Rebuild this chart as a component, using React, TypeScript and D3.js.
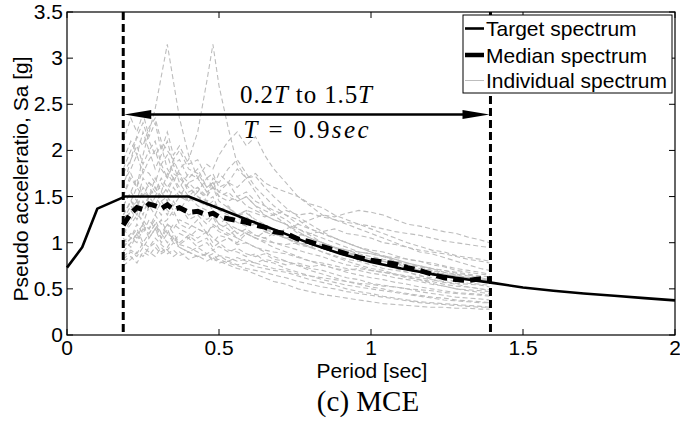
import React from "react";
import * as d3 from "d3";

const targetPeriods = [0, 0.05, 0.1, 0.19, 0.4, 0.5, 0.6, 0.7, 0.8, 0.9, 1.0, 1.1, 1.2, 1.3, 1.4, 1.5, 1.6, 1.7, 1.8, 1.9, 2.0];
const targetSa = [0.73, 0.95, 1.37, 1.5, 1.5, 1.37, 1.24, 1.12, 0.99, 0.88, 0.79, 0.72, 0.66, 0.61, 0.565, 0.515, 0.48, 0.45, 0.425, 0.4, 0.375];

const recPeriods = [0.185, 0.21, 0.23, 0.25, 0.27, 0.29, 0.31, 0.33, 0.35, 0.37, 0.40, 0.43, 0.46, 0.48, 0.50, 0.53, 0.56, 0.59, 0.62, 0.65, 0.68, 0.72, 0.76, 0.80, 0.84, 0.88, 0.92, 0.96, 1.00, 1.04, 1.08, 1.12, 1.16, 1.20, 1.24, 1.28, 1.32, 1.36, 1.39];
const medianSa = [1.19, 1.32, 1.38, 1.36, 1.42, 1.40, 1.37, 1.41, 1.36, 1.38, 1.33, 1.34, 1.30, 1.32, 1.28, 1.26, 1.24, 1.22, 1.19, 1.17, 1.12, 1.10, 1.04, 1.01, 0.96, 0.92, 0.88, 0.84, 0.81, 0.79, 0.77, 0.73, 0.70, 0.66, 0.62, 0.60, 0.59, 0.61, 0.61];

const individualSa: number[][] = [
  [1.5, 1.75, 1.6, 1.95, 2.2, 2.45, 2.8, 3.15, 2.75, 2.35, 1.95, 1.7, 1.55, 1.6, 1.45, 1.38, 1.3, 1.35, 1.22, 1.18, 1.1, 1.05, 0.98, 0.95, 0.9, 0.85, 0.8, 0.76, 0.72, 0.7, 0.66, 0.63, 0.6, 0.56, 0.53, 0.5, 0.48, 0.46, 0.45],
  [1.3, 1.45, 1.35, 1.6, 1.5, 1.7, 1.55, 1.75, 1.65, 1.8, 1.9, 2.2, 2.75, 3.15, 2.7, 2.25, 1.85, 1.7, 1.55, 1.4, 1.32, 1.25, 1.15, 1.08, 1.0, 0.95, 0.9, 0.84, 0.8, 0.76, 0.72, 0.68, 0.65, 0.6, 0.57, 0.55, 0.52, 0.5, 0.48],
  [2.1, 2.35, 2.2, 2.4, 2.15, 2.3, 2.0, 2.2, 1.95, 2.05, 1.85, 1.9, 1.7, 1.75, 1.6, 1.65, 1.5, 1.55, 1.45, 1.4, 1.35, 1.3, 1.2, 1.15, 1.1, 1.05, 1.0, 0.95, 0.92, 0.9, 0.86, 0.82, 0.8, 0.76, 0.74, 0.7, 0.68, 0.66, 0.65],
  [1.4, 1.55, 1.45, 1.7, 1.6, 1.5, 1.65, 1.55, 1.7, 1.6, 1.75, 1.7, 1.85, 1.8, 1.95, 2.1, 2.2, 2.05, 2.15, 1.95, 1.8, 1.65, 1.5, 1.4, 1.3, 1.25, 1.2, 1.15, 1.1, 1.05, 1.0, 0.95, 0.9, 0.88, 0.84, 0.8, 0.76, 0.72, 0.7],
  [0.8, 0.85, 0.78, 0.9, 0.86, 0.95, 0.88, 0.92, 0.85, 0.9, 0.82, 0.86, 0.8, 0.84, 0.78, 0.8, 0.76, 0.78, 0.74, 0.72, 0.7, 0.68, 0.64, 0.6, 0.57, 0.54, 0.5, 0.47, 0.45, 0.42, 0.4, 0.38, 0.36, 0.35, 0.34, 0.33, 0.32, 0.31, 0.3],
  [1.75, 1.9, 2.05, 1.85, 2.0, 1.8, 1.95, 2.1, 1.85, 1.9, 1.7, 1.8, 1.6, 1.65, 1.55, 1.5, 1.45, 1.5, 1.4, 1.35, 1.3, 1.2, 1.15, 1.1, 1.05, 1.0, 0.95, 0.9, 0.88, 0.85, 0.8, 0.78, 0.74, 0.7, 0.68, 0.65, 0.62, 0.6, 0.58],
  [1.1, 1.25, 1.35, 1.2, 1.4, 1.3, 1.45, 1.35, 1.3, 1.4, 1.25, 1.3, 1.2, 1.28, 1.15, 1.2, 1.1, 1.15, 1.08, 1.05, 1.0, 0.96, 0.92, 0.88, 0.85, 0.8, 0.76, 0.74, 0.7, 0.68, 0.65, 0.62, 0.6, 0.58, 0.55, 0.53, 0.52, 0.5, 0.49],
  [0.9, 1.0, 1.1, 0.95, 1.05, 1.15, 1.0, 1.1, 1.05, 0.98, 1.05, 0.95, 1.0, 0.92, 0.96, 0.9, 0.94, 0.88, 0.85, 0.88, 0.82, 0.8, 0.76, 0.72, 0.7, 0.66, 0.62, 0.6, 0.56, 0.54, 0.52, 0.5, 0.47, 0.45, 0.43, 0.41, 0.4, 0.39, 0.38],
  [1.6, 1.9, 2.15, 2.3, 2.1, 1.95, 2.05, 1.8, 1.7, 1.75, 1.55, 1.6, 1.45, 1.5, 1.35, 1.3, 1.25, 1.28, 1.2, 1.15, 1.1, 1.05, 1.0, 0.96, 0.9, 0.86, 0.82, 0.8, 0.76, 0.72, 0.7, 0.68, 0.64, 0.62, 0.6, 0.58, 0.56, 0.55, 0.54],
  [1.0, 1.1, 1.05, 1.2, 1.15, 1.25, 1.1, 1.2, 1.15, 1.25, 1.2, 1.15, 1.1, 1.18, 1.12, 1.08, 1.15, 1.1, 1.05, 1.12, 1.08, 1.15, 1.2, 1.25, 1.3, 1.28, 1.32, 1.35, 1.33, 1.3, 1.25, 1.2, 1.18, 1.15, 1.12, 1.1, 1.06, 1.03, 1.0],
  [1.3, 1.45, 1.6, 1.5, 1.65, 1.55, 1.7, 1.6, 1.5, 1.55, 1.45, 1.5, 1.4, 1.45, 1.35, 1.4, 1.3, 1.32, 1.25, 1.2, 1.15, 1.1, 1.05, 1.0, 0.98, 0.94, 0.9, 0.86, 0.82, 0.8, 0.78, 0.74, 0.7, 0.67, 0.64, 0.62, 0.6, 0.58, 0.57],
  [0.75, 0.82, 0.9, 0.85, 0.95, 1.0, 0.9, 0.95, 1.05, 0.95, 0.9, 0.85, 0.88, 0.8, 0.82, 0.78, 0.75, 0.72, 0.7, 0.68, 0.65, 0.62, 0.58, 0.55, 0.52, 0.5, 0.47, 0.45, 0.43, 0.41, 0.39, 0.37, 0.35, 0.34, 0.33, 0.32, 0.31, 0.3, 0.3],
  [1.2, 1.35, 1.25, 1.4, 1.5, 1.4, 1.55, 1.45, 1.6, 1.5, 1.65, 1.55, 1.7, 1.6, 1.75, 1.65, 1.8, 1.7, 1.75, 1.65, 1.6, 1.55, 1.5, 1.42, 1.38, 1.3, 1.25, 1.2, 1.15, 1.1, 1.05, 1.0, 0.96, 0.92, 0.9, 0.86, 0.84, 0.82, 0.8],
  [1.15, 1.05, 1.2, 1.1, 1.25, 1.15, 1.05, 1.2, 1.1, 1.0, 1.08, 1.0, 1.05, 0.95, 1.0, 0.92, 0.9, 0.85, 0.88, 0.8, 0.78, 0.72, 0.68, 0.64, 0.6, 0.57, 0.54, 0.52, 0.5, 0.48, 0.46, 0.44, 0.42, 0.4, 0.38, 0.37, 0.36, 0.35, 0.35],
  [1.9, 2.1, 1.95, 2.2, 2.0, 2.1, 1.85, 1.95, 1.75, 1.7, 1.6, 1.5, 1.45, 1.35, 1.3, 1.2, 1.15, 1.1, 1.05, 1.0, 0.95, 0.9, 0.85, 0.8, 0.76, 0.72, 0.68, 0.65, 0.62, 0.6, 0.57, 0.55, 0.52, 0.5, 0.48, 0.46, 0.45, 0.44, 0.43],
  [1.2, 1.35, 1.45, 1.3, 1.5, 1.4, 1.3, 1.45, 1.35, 1.4, 1.3, 1.35, 1.25, 1.3, 1.2, 1.28, 1.22, 1.18, 1.2, 1.12, 1.1, 1.05, 1.0, 0.98, 0.95, 0.9, 0.88, 0.85, 0.82, 0.8, 0.78, 0.76, 0.72, 0.7, 0.66, 0.64, 0.62, 0.6, 0.6],
  [0.95, 1.05, 1.15, 1.0, 1.1, 1.2, 1.05, 1.15, 1.0, 1.1, 1.05, 1.15, 1.1, 1.0, 1.08, 1.05, 1.0, 1.1, 1.05, 1.02, 1.0, 0.98, 1.0, 0.95, 0.98, 0.95, 0.92, 0.9, 0.88, 0.85, 0.84, 0.82, 0.8, 0.78, 0.75, 0.72, 0.7, 0.68, 0.66],
  [1.5, 1.7, 1.6, 1.8, 1.75, 1.65, 1.85, 1.7, 1.9, 1.75, 1.65, 1.7, 1.55, 1.6, 1.5, 1.45, 1.5, 1.4, 1.35, 1.3, 1.25, 1.2, 1.12, 1.05, 1.0, 0.95, 0.92, 0.88, 0.85, 0.82, 0.8, 0.76, 0.74, 0.72, 0.7, 0.68, 0.66, 0.64, 0.63],
  [0.85, 0.92, 0.88, 1.0, 0.95, 1.05, 0.98, 0.92, 1.0, 0.95, 0.9, 0.95, 0.88, 0.92, 0.86, 0.84, 0.8, 0.82, 0.78, 0.75, 0.72, 0.7, 0.66, 0.64, 0.62, 0.6, 0.58, 0.56, 0.55, 0.53, 0.52, 0.5, 0.49, 0.48, 0.46, 0.45, 0.44, 0.43, 0.42],
  [1.3, 1.45, 1.4, 1.55, 1.5, 1.6, 1.45, 1.5, 1.4, 1.5, 1.45, 1.55, 1.5, 1.6, 1.55, 1.65, 1.6, 1.7, 1.72, 1.6, 1.5, 1.38, 1.28, 1.2, 1.12, 1.05, 1.0, 0.95, 0.9, 0.86, 0.82, 0.78, 0.75, 0.72, 0.7, 0.67, 0.65, 0.62, 0.6],
  [1.1, 1.2, 1.3, 1.25, 1.15, 1.3, 1.2, 1.25, 1.35, 1.2, 1.15, 1.25, 1.1, 1.2, 1.15, 1.1, 1.05, 1.12, 1.08, 1.05, 1.1, 1.05, 1.08, 1.1, 1.12, 1.15, 1.1, 1.08, 1.05, 1.0, 0.98, 0.95, 0.92, 0.9, 0.88, 0.85, 0.82, 0.8, 0.78],
  [1.65, 1.8, 1.95, 1.75, 1.9, 2.0, 1.8, 1.7, 1.85, 1.65, 1.5, 1.4, 1.35, 1.3, 1.2, 1.15, 1.05, 1.0, 0.95, 0.9, 0.85, 0.8, 0.75, 0.7, 0.66, 0.62, 0.58, 0.55, 0.52, 0.5, 0.47, 0.45, 0.43, 0.41, 0.4, 0.38, 0.37, 0.36, 0.35],
  [1.25, 1.4, 1.3, 1.45, 1.35, 1.5, 1.4, 1.3, 1.45, 1.35, 1.5, 1.6, 1.5, 1.7, 1.65, 1.8, 1.9, 1.75, 1.6, 1.5, 1.4, 1.3, 1.25, 1.15, 1.1, 1.05, 1.0, 0.95, 0.9, 0.85, 0.82, 0.78, 0.75, 0.72, 0.68, 0.66, 0.64, 0.62, 0.6],
  [0.82, 0.9, 0.85, 0.95, 0.9, 0.85, 0.95, 0.88, 0.92, 0.86, 0.9, 0.85, 0.88, 0.82, 0.86, 0.8, 0.84, 0.8, 0.78, 0.82, 0.8, 0.76, 0.78, 0.74, 0.76, 0.72, 0.7, 0.72, 0.7, 0.68, 0.66, 0.64, 0.62, 0.6, 0.58, 0.56, 0.55, 0.54, 0.52],
  [1.4, 1.55, 1.7, 1.5, 1.65, 1.6, 1.5, 1.6, 1.7, 1.55, 1.5, 1.45, 1.4, 1.42, 1.35, 1.38, 1.3, 1.35, 1.32, 1.28, 1.3, 1.35, 1.3, 1.32, 1.28, 1.25, 1.22, 1.2, 1.18, 1.15, 1.12, 1.1, 1.08, 1.05, 1.02, 1.0, 0.98, 0.96, 0.95],
  [1.05, 0.95, 1.1, 1.2, 1.05, 1.15, 1.25, 1.1, 1.2, 1.15, 1.1, 1.05, 1.12, 1.05, 1.0, 1.05, 0.98, 1.0, 0.95, 0.92, 0.9, 0.88, 0.84, 0.8, 0.78, 0.75, 0.72, 0.7, 0.67, 0.65, 0.62, 0.6, 0.58, 0.55, 0.53, 0.5, 0.49, 0.48, 0.47],
  [1.8, 2.0, 2.15, 2.05, 2.25, 2.35, 2.1, 2.0, 1.9, 2.0, 1.8, 1.75, 1.6, 1.65, 1.5, 1.55, 1.45, 1.5, 1.4, 1.3, 1.25, 1.2, 1.1, 1.05, 1.0, 0.95, 0.9, 0.86, 0.82, 0.8, 0.76, 0.74, 0.7, 0.68, 0.66, 0.64, 0.62, 0.6, 0.58],
  [0.95, 1.05, 1.0, 1.15, 1.1, 1.2, 1.1, 1.0, 1.08, 0.98, 0.95, 0.9, 0.85, 0.88, 0.8, 0.76, 0.72, 0.7, 0.66, 0.62, 0.58, 0.55, 0.5, 0.47, 0.44, 0.42, 0.4, 0.38, 0.36, 0.34, 0.33, 0.32, 0.31, 0.3, 0.3, 0.29, 0.29, 0.28, 0.28],
];

const xTicks = [0, 0.5, 1, 1.5, 2];
const yTicks = [0, 0.5, 1, 1.5, 2, 2.5, 3, 3.5];
const rangeBounds = [0.185, 1.393];
const arrowLevel = 2.39;
const legendLabels = ["Target spectrum", "Median spectrum", "Individual spectrum"];

const W = 680;
const H = 421;
const m = { left: 67, right: 675, top: 12, bottom: 335 };
const sans = "'Liberation Sans', Arial, Helvetica, sans-serif";
const serif = "'Liberation Serif', 'Times New Roman', serif";

export default function App() {
  const x = d3.scaleLinear().domain([0, 2]).range([m.left, m.right]);
  const y = d3.scaleLinear().domain([0, 3.5]).range([m.bottom, m.top]);
  const line = d3
    .line<[number, number]>()
    .defined((d) => d[1] !== undefined && !isNaN(d[1]))
    .x((d) => x(d[0]))
    .y((d) => y(d[1]));

  const targetPath = line(targetPeriods.map((t, i) => [t, targetSa[i]]))!;
  const medianPath = line(recPeriods.map((t, i) => [t, medianSa[i]]))!;
  const indivPaths = individualSa.map((row) => line(recPeriods.map((t, i) => [t, row[i]]))!);

  const tick = 6;
  const ay = y(arrowLevel);
  const ax0 = x(rangeBounds[0]);
  const ax1 = x(rangeBounds[1]);
  const ahL = 27;
  const ahW = 4.5;

  const lx = 463;
  const ly = 15;
  const lw = 209;
  const lh = 78;
  const rows = [28.5, 55, 80.5];
  const fs = 21;

  return (
    <svg
      width={W}
      height={H}
      style={{ position: "absolute", left: 0, top: 0, background: "#fff" }}
      xmlns="http://www.w3.org/2000/svg"
    >
      <rect x={0} y={0} width={W} height={H} fill="#fff" />
      <g fill="none" stroke="#bdbdbd" strokeWidth={1.1} strokeDasharray="5,3">
        {indivPaths.map((p, i) => (
          <path key={i} d={p} />
        ))}
      </g>
      <path d={targetPath} fill="none" stroke="#000" strokeWidth={2.6} strokeLinejoin="round" />
      <path d={medianPath} fill="none" stroke="#000" strokeWidth={5} strokeDasharray="11,6" />
      {rangeBounds.map((b, i) => (
        <line
          key={i}
          x1={x(b)}
          x2={x(b)}
          y1={m.top}
          y2={m.bottom}
          stroke="#000"
          strokeWidth={3}
          strokeDasharray="8,4"
        />
      ))}
      <line x1={ax0 + ahL - 2} x2={ax1 - ahL + 2} y1={ay} y2={ay} stroke="#000" strokeWidth={2.5} />
      <path d={`M${ax0 + 1},${ay} L${ax0 + 1 + ahL},${ay - ahW} L${ax0 + 1 + ahL},${ay + ahW} Z`} fill="#000" />
      <path d={`M${ax1 - 1},${ay} L${ax1 - 1 - ahL},${ay - ahW} L${ax1 - 1 - ahL},${ay + ahW} Z`} fill="#000" />
      <text x={306} y={103} fontFamily={serif} fontSize={25} textAnchor="middle" textLength={132} lengthAdjust="spacing">
        <tspan>0.2</tspan>
        <tspan fontStyle="italic">T</tspan>
        <tspan> to 1.5</tspan>
        <tspan fontStyle="italic">T</tspan>
      </text>
      <text x={306} y={138} fontFamily={serif} fontSize={25} textAnchor="middle" textLength={125} lengthAdjust="spacing">
        <tspan fontStyle="italic">T</tspan>
        <tspan> = 0.9</tspan>
        <tspan fontStyle="italic">sec</tspan>
      </text>
      <rect
        x={m.left}
        y={m.top}
        width={m.right - m.left}
        height={m.bottom - m.top}
        fill="none"
        stroke="#000"
        strokeWidth={1.2}
      />
      <g stroke="#000" strokeWidth={1}>
        {xTicks.map((t) => (
          <g key={"x" + t}>
            <line x1={x(t)} x2={x(t)} y1={m.bottom} y2={m.bottom - tick} />
            <line x1={x(t)} x2={x(t)} y1={m.top} y2={m.top + tick} />
          </g>
        ))}
        {yTicks.map((t) => (
          <g key={"y" + t}>
            <line x1={m.left} x2={m.left + tick} y1={y(t)} y2={y(t)} />
            <line x1={m.right} x2={m.right - tick} y1={y(t)} y2={y(t)} />
          </g>
        ))}
      </g>
      <g fontFamily={sans} fontSize={fs} fill="#000">
        {xTicks.map((t) => (
          <text key={"xl" + t} x={x(t)} y={355} textAnchor="middle">
            {d3.format("~g")(t)}
          </text>
        ))}
        {yTicks.map((t) => (
          <text key={"yl" + t} x={63} y={y(t) + 7} textAnchor="end">
            {d3.format("~g")(t)}
          </text>
        ))}
      </g>
      <text x={372} y={378} fontFamily={sans} fontSize={fs} textAnchor="middle">
        Period [sec]
      </text>
      <text transform={`translate(28,179) rotate(-90)`} fontFamily={sans} fontSize={fs} textAnchor="middle">
        Pseudo acceleratio, Sa [g]
      </text>
      <text x={368} y={411} fontFamily={serif} fontSize={29} textAnchor="middle">
        (c) MCE
      </text>
      <rect x={lx} y={ly} width={lw} height={lh} fill="#fff" stroke="#000" strokeWidth={1} />
      <line x1={465} x2={484} y1={rows[0]} y2={rows[0]} stroke="#000" strokeWidth={2.6} />
      <line x1={465} x2={484} y1={rows[1]} y2={rows[1]} stroke="#000" strokeWidth={4.5} />
      <line x1={465} x2={484} y1={rows[2]} y2={rows[2]} stroke="#bdbdbd" strokeWidth={1} />
      {legendLabels.map((l, i) => (
        <text key={l} x={486} y={rows[i] + 7.5} fontFamily={sans} fontSize={fs}>
          {l}
        </text>
      ))}
    </svg>
  );
}
